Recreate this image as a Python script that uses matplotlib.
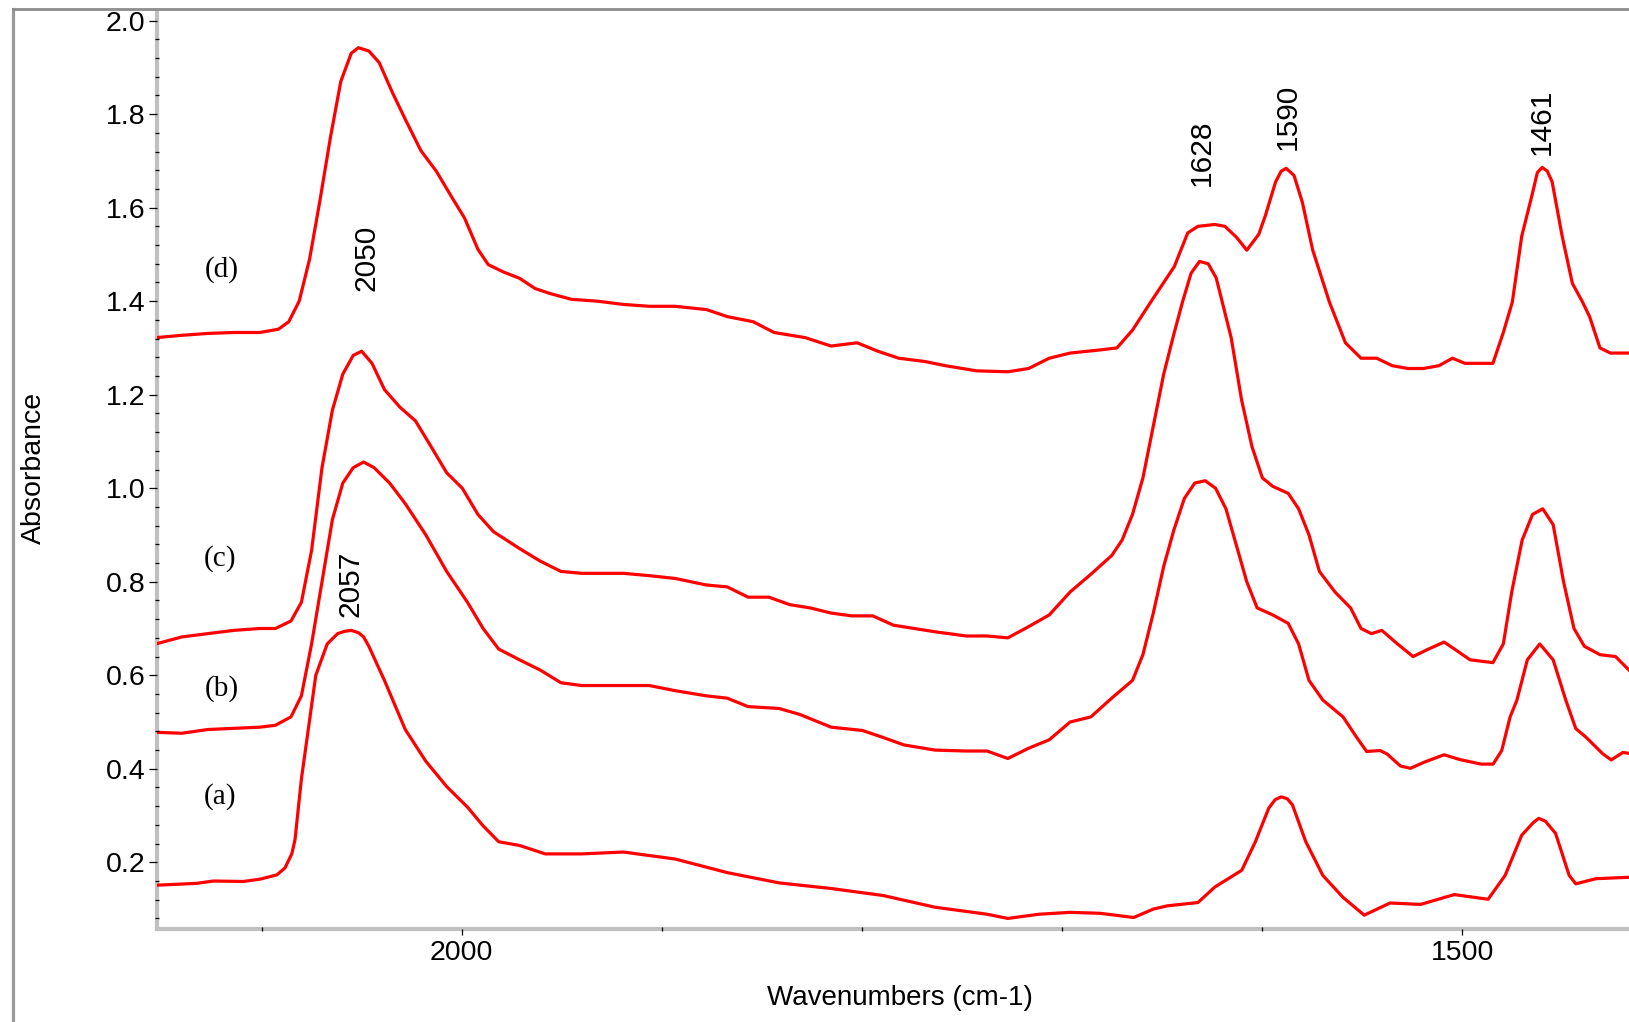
import matplotlib
matplotlib.use("Agg")
import matplotlib.pyplot as plt
from matplotlib.lines import Line2D
from matplotlib.ticker import MultipleLocator, FixedLocator, FormatStrFormatter

plt.rcParams['font.family'] = ['Liberation Sans', 'DejaVu Sans']

# ---- spectra: wavenumber (cm-1) and absorbance ----
a_wn = [2152.8, 2132.4, 2124.1, 2109.1, 2100.8, 2092.4, 2088.3, 2084.9, 2083.3, 2080.1,
        2076.5, 2072.9, 2067.2, 2062.0, 2058.5, 2055.2, 2051.6, 2049.0, 2046.4, 2038.6,
        2028.2, 2017.9, 2007.5, 1997.1, 1989.3, 1981.5, 1971.1, 1958.2, 1940.0, 1919.2,
        1893.3, 1867.3, 1841.4, 1815.4, 1789.4, 1763.5, 1737.5, 1727.1, 1711.5, 1696.0,
        1681.0, 1664.2, 1654.4, 1647.3, 1632.1, 1623.7, 1610.2, 1603.4, 1596.7, 1593.5,
        1590.5, 1587.5, 1584.9, 1578.2, 1569.7, 1559.6, 1549.0, 1536.1, 1520.8, 1504.0,
        1487.1, 1478.6, 1470.3, 1464.5, 1461.8, 1458.5, 1453.4, 1446.6, 1443.3, 1433.2,
        1416.7]
a_abs = [0.151, 0.155, 0.160, 0.159, 0.164, 0.173, 0.188, 0.218, 0.248, 0.378,
         0.489, 0.600, 0.667, 0.689, 0.694, 0.696, 0.691, 0.682, 0.662, 0.589,
         0.484, 0.416, 0.362, 0.318, 0.278, 0.244, 0.236, 0.218, 0.218, 0.222,
         0.207, 0.178, 0.156, 0.144, 0.129, 0.104, 0.089, 0.080, 0.089, 0.093,
         0.091, 0.082, 0.100, 0.107, 0.114, 0.147, 0.183, 0.244, 0.316, 0.334,
         0.340, 0.336, 0.323, 0.244, 0.172, 0.125, 0.087, 0.113, 0.110, 0.131,
         0.121, 0.172, 0.258, 0.285, 0.294, 0.288, 0.262, 0.172, 0.154, 0.165,
         0.168]

b_wn = [2152.8, 2139.8, 2126.9, 2100.9, 2093.1, 2085.3, 2080.1, 2075.0, 2069.8, 2064.6,
        2059.4, 2054.2, 2049.0, 2043.8, 2036.0, 2028.2, 2017.9, 2007.5, 1997.1, 1989.3,
        1981.5, 1971.1, 1960.7, 1950.4, 1940.0, 1919.2, 1906.2, 1893.3, 1877.7, 1867.3,
        1856.9, 1841.4, 1830.9, 1815.4, 1799.8, 1789.4, 1779.0, 1763.5, 1747.9, 1737.5,
        1727.1, 1716.7, 1706.4, 1696.0, 1685.6, 1675.2, 1664.8, 1659.6, 1654.4, 1649.2,
        1644.1, 1638.9, 1633.7, 1628.5, 1623.3, 1618.1, 1612.9, 1607.7, 1602.5, 1594.7,
        1587.0, 1581.8, 1576.6, 1569.7, 1559.6, 1552.9, 1547.8, 1541.1, 1537.7, 1530.9,
        1525.9, 1519.1, 1509.1, 1500.6, 1490.5, 1484.6, 1480.3, 1476.1, 1472.7, 1467.5,
        1461.3, 1454.6, 1448.3, 1443.3, 1438.3, 1429.8, 1425.6, 1419.7, 1416.7]
b_abs = [0.478, 0.476, 0.484, 0.489, 0.493, 0.511, 0.556, 0.667, 0.800, 0.933,
         1.011, 1.044, 1.056, 1.044, 1.011, 0.967, 0.900, 0.822, 0.756, 0.700,
         0.656, 0.633, 0.611, 0.584, 0.578, 0.578, 0.578, 0.567, 0.556, 0.551,
         0.533, 0.529, 0.516, 0.489, 0.482, 0.467, 0.451, 0.440, 0.438, 0.438,
         0.422, 0.444, 0.462, 0.500, 0.511, 0.551, 0.589, 0.644, 0.733, 0.833,
         0.911, 0.978, 1.011, 1.016, 1.000, 0.956, 0.878, 0.800, 0.744, 0.729,
         0.711, 0.667, 0.589, 0.547, 0.511, 0.468, 0.437, 0.439, 0.432, 0.406,
         0.401, 0.414, 0.430, 0.419, 0.410, 0.410, 0.439, 0.511, 0.547, 0.633,
         0.667, 0.633, 0.547, 0.486, 0.468, 0.432, 0.419, 0.435, 0.433]

c_wn = [2152.8, 2139.8, 2126.9, 2113.9, 2100.9, 2093.1, 2085.3, 2080.1, 2075.0, 2069.8,
        2064.6, 2059.4, 2054.2, 2050.0, 2044.8, 2038.6, 2030.8, 2023.1, 2015.3, 2007.5,
        1999.7, 1991.9, 1984.1, 1971.1, 1960.7, 1950.4, 1940.0, 1919.2, 1906.2, 1893.3,
        1877.7, 1867.3, 1856.9, 1846.5, 1836.1, 1825.8, 1815.4, 1805.0, 1794.6, 1784.2,
        1773.8, 1763.5, 1747.9, 1737.5, 1727.1, 1716.7, 1706.4, 1696.0, 1685.6, 1675.2,
        1670.0, 1664.8, 1659.6, 1654.4, 1649.2, 1644.1, 1639.7, 1635.5, 1631.3, 1627.0,
        1623.0, 1620.7, 1615.5, 1610.3, 1605.1, 1599.9, 1594.7, 1587.0, 1581.8, 1576.6,
        1571.4, 1563.6, 1555.8, 1550.6, 1545.4, 1540.2, 1532.4, 1524.6, 1516.9, 1509.1,
        1503.9, 1496.1, 1484.7, 1479.5, 1475.3, 1470.1, 1464.9, 1459.8, 1454.6, 1449.4,
        1444.2, 1439.0, 1431.2, 1423.4, 1416.7]
c_abs = [0.667, 0.682, 0.689, 0.696, 0.700, 0.700, 0.716, 0.756, 0.867, 1.044,
         1.167, 1.244, 1.284, 1.293, 1.267, 1.211, 1.173, 1.144, 1.089, 1.033,
         1.000, 0.944, 0.907, 0.871, 0.844, 0.822, 0.818, 0.818, 0.813, 0.807,
         0.793, 0.789, 0.767, 0.767, 0.751, 0.744, 0.733, 0.727, 0.727, 0.707,
         0.700, 0.693, 0.684, 0.684, 0.680, 0.704, 0.729, 0.778, 0.816, 0.856,
         0.889, 0.944, 1.022, 1.133, 1.244, 1.330, 1.400, 1.460, 1.485, 1.480,
         1.450, 1.411, 1.322, 1.189, 1.089, 1.022, 1.004, 0.989, 0.956, 0.900,
         0.822, 0.778, 0.744, 0.700, 0.689, 0.696, 0.667, 0.640, 0.656, 0.671,
         0.656, 0.633, 0.627, 0.667, 0.778, 0.889, 0.944, 0.956, 0.922, 0.800,
         0.700, 0.662, 0.644, 0.640, 0.611]

d_wn = [2152.8, 2139.8, 2126.9, 2113.9, 2100.9, 2091.6, 2086.4, 2081.2, 2076.0, 2070.8,
        2065.6, 2060.4, 2055.2, 2051.6, 2046.4, 2041.2, 2034.5, 2028.2, 2020.4, 2012.7,
        2004.9, 1998.6, 1991.9, 1986.7, 1978.9, 1971.1, 1963.3, 1955.6, 1945.2, 1932.2,
        1919.2, 1906.2, 1893.3, 1877.7, 1867.3, 1854.3, 1843.9, 1828.3, 1815.4, 1802.4,
        1792.1, 1781.6, 1768.6, 1758.3, 1742.7, 1727.1, 1716.7, 1706.4, 1696.0, 1680.4,
        1672.6, 1664.8, 1655.7, 1643.9, 1637.2, 1632.1, 1623.7, 1618.6, 1612.7, 1607.7,
        1601.7, 1598.4, 1593.3, 1590.5, 1588.0, 1584.1, 1579.9, 1574.8, 1566.4, 1558.4,
        1550.6, 1542.8, 1535.0, 1527.2, 1519.4, 1511.7, 1504.9, 1498.7, 1484.7, 1479.5,
        1475.0, 1470.3, 1465.2, 1462.5, 1460.1, 1457.5, 1455.1, 1450.1, 1445.0, 1439.9,
        1436.4, 1431.2, 1426.0, 1416.7]
d_abs = [1.322, 1.327, 1.331, 1.333, 1.333, 1.340, 1.356, 1.400, 1.490, 1.616,
         1.750, 1.870, 1.930, 1.942, 1.935, 1.910, 1.845, 1.789, 1.722, 1.678,
         1.622, 1.578, 1.511, 1.478, 1.462, 1.449, 1.427, 1.416, 1.404, 1.400,
         1.393, 1.389, 1.389, 1.382, 1.367, 1.356, 1.333, 1.322, 1.304, 1.311,
         1.293, 1.278, 1.271, 1.262, 1.251, 1.249, 1.256, 1.278, 1.289, 1.296,
         1.300, 1.338, 1.398, 1.474, 1.546, 1.560, 1.564, 1.560, 1.536, 1.509,
         1.543, 1.583, 1.655, 1.678, 1.684, 1.669, 1.611, 1.510, 1.398, 1.311,
         1.278, 1.278, 1.262, 1.256, 1.256, 1.262, 1.278, 1.267, 1.267, 1.333,
         1.398, 1.539, 1.626, 1.675, 1.686, 1.678, 1.655, 1.539, 1.438, 1.398,
         1.367, 1.300, 1.289, 1.289]

# curve tags and where they sit (wavenumber, absorbance)
tag_text = ['(a)', '(b)', '(c)', '(d)']
tag_wn = [2120.7, 2119.9, 2120.8, 2119.9]
tag_abs = [0.340, 0.572, 0.850, 1.467]

# band assignments written vertically above the peaks
band_text = ['2057', '2050', '1628', '1590', '1461']
band_wn = [2055.5, 2047.5, 1630.0, 1587.4, 1460.1]
band_abs = [0.795, 1.492, 1.718, 1.795, 1.783]

y_ticks = [0.2, 0.4, 0.6, 0.8, 1.0, 1.2, 1.4, 1.6, 1.8, 2.0]
x_ticks = [2000, 1500]

W, H = 1629, 1022
fig = plt.figure(figsize=(W / 100, H / 100), dpi=100)
fig.patch.set_facecolor('white')

left_px, bottom_px, top_px = 156.7, 929.0, 11.7
ax = fig.add_axes([left_px / W, 1 - bottom_px / H,
                   (W - left_px) / W, (bottom_px - top_px) / H])

for wn, ab in [(a_wn, a_abs), (b_wn, b_abs), (c_wn, c_abs), (d_wn, d_abs)]:
    ax.plot(wn, ab, color='#ff0000', lw=2.3, solid_joinstyle='round', zorder=2)

ax.set_xlim(2152.4, 1416.7)
ax.set_ylim(0.0574, 2.019)

for side in ['top', 'right']:
    ax.spines[side].set_visible(False)
for side in ['left', 'bottom']:
    ax.spines[side].set_color('#c0c0c0')
    ax.spines[side].set_linewidth(3.0)
    ax.spines[side].set_zorder(1)
ax.set_axisbelow(False)

ax.yaxis.set_major_locator(FixedLocator(y_ticks))
ax.yaxis.set_minor_locator(MultipleLocator(0.04))
ax.yaxis.set_major_formatter(FormatStrFormatter('%.1f'))
ax.xaxis.set_major_locator(FixedLocator(x_ticks))
ax.xaxis.set_minor_locator(MultipleLocator(100))

ax.tick_params(axis='y', which='major', direction='out', length=5.5, width=0.9,
               color='black', labelsize=20.5, pad=2.5)
ax.tick_params(axis='y', which='minor', direction='inout', length=3.0, width=0.9,
               color='black')
ax.tick_params(axis='x', which='major', direction='out', length=4.3, width=0.9,
               color='black', labelsize=20.5, pad=3.5)
ax.tick_params(axis='x', which='minor', direction='inout', length=2.6, width=0.9,
               color='black')

ax.set_xlabel('Wavenumbers (cm-1)', fontsize=20)
ax.xaxis.label.set_va('center')
ax.xaxis.set_label_coords((899.5 - left_px) / (W - left_px),
                          -(998 - bottom_px) / (bottom_px - top_px))
ax.set_ylabel('Absorbance', fontsize=20.5)
ax.yaxis.label.set_va('center')
ax.yaxis.set_label_coords((34 - left_px) / (W - left_px),
                          (bottom_px - 468) / (bottom_px - top_px))

for t, x, y in zip(tag_text, tag_wn, tag_abs):
    ax.text(x, y, t, family=['Liberation Serif', 'DejaVu Serif'], fontsize=21,
            ha='center', va='center')

for t, x, y in zip(band_text, band_wn, band_abs):
    ax.text(x, y, t, rotation=90, fontsize=21.5, ha='center', va='center')

# outer frame of the plot window
fx = 13.3 / W
fy = 1 - 9.3 / H
fig.add_artist(Line2D([fx, fx], [0, fy], transform=fig.transFigure,
                      color='#9a9a9a', lw=2.3))
fig.add_artist(Line2D([fx, 1], [fy, fy], transform=fig.transFigure,
                      color='#8c8c8c', lw=2.0))

fig.savefig('out.png', dpi=100, facecolor='white')
